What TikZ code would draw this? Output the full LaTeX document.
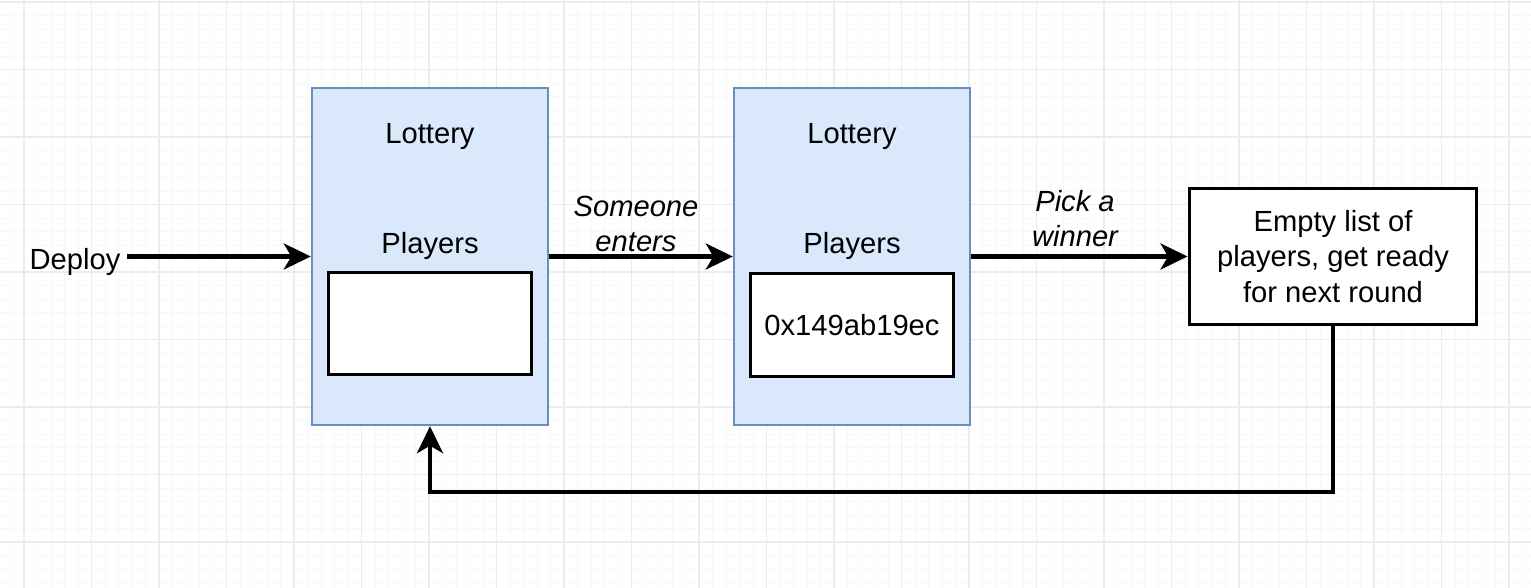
\documentclass[tikz,border=0pt]{standalone}
\usepackage{fontspec}
\setmainfont{Liberation Sans}
\usepackage{xcolor}
\usepackage{tikz}
\usetikzlibrary{arrows.meta}

\definecolor{lotteryfill}{HTML}{DAE8FC}
\definecolor{lotteryedge}{HTML}{6C8EBF}
\definecolor{minorgrid}{HTML}{F8F8F8}
\definecolor{majorgrid}{HTML}{ECECEC}

\tikzset{
    lottery/.style={draw=lotteryedge, fill=lotteryfill, line width=1.4pt,
        minimum width=4.72cm, minimum height=6.74cm, inner sep=0pt},
    slot/.style={draw=black, fill=white, line width=1.7pt,
        minimum width=4.08cm, minimum height=2.06cm, inner sep=0pt},
    resetbox/.style={draw=black, fill=white, line width=1.7pt, align=center,
        minimum width=5.76cm, minimum height=2.72cm, inner sep=0pt},
    txt/.style={font=\fontsize{16.6}{20}\selectfont, inner sep=1pt},
    edgelabel/.style={txt, font=\fontsize{16.6}{20}\selectfont\itshape, align=center},
    flow/.style={line width=2.3pt, -{Stealth[length=0.54cm, width=0.52cm, inset=0.15cm]}}
}

\begin{document}
\begin{tikzpicture}[x=0.02cm, y=-0.02cm]
        % page and background grid
        \useasboundingbox (0,0) rectangle (1531,588);
        \fill[white] (0,0) rectangle (1531,588);
        \foreach \k [evaluate=\k as \gx using 10.5+13.5*\k] in {0,...,112} {
            \draw[minorgrid, line width=0.5pt] (\gx,0) -- (\gx,588);
        }
        \foreach \k [evaluate=\k as \gy using 2+13.5*\k] in {0,...,43} {
            \draw[minorgrid, line width=0.5pt] (0,\gy) -- (1531,\gy);
        }
        \foreach \k [evaluate=\k as \gx using 24+67.5*\k] in {0,...,22} {
            \draw[majorgrid, line width=0.6pt] (\gx,0) -- (\gx,588);
        }
        \foreach \k [evaluate=\k as \gy using 2+67.5*\k] in {0,...,8} {
            \draw[majorgrid, line width=0.6pt] (0,\gy) -- (1531,\gy);
        }

        % first contract: empty list of players
        \node[lottery] (lotA) at (430,256.5) {};
        \node[txt] (lotAtitle) at (430,136) {Lottery};
        \node[txt] (lotAplayers) at (430,246) {Players};
        \node[slot] (slotA) at (430,323.5) {};

        % second contract: one player entered
        \node[lottery] (lotB) at (852,256.5) {};
        \node[txt] (lotBtitle) at (852,136) {Lottery};
        \node[txt] (lotBplayers) at (852,246) {Players};
        \node[slot, txt] (slotB) at (852,325) {0x149ab19ec};

        % reset step
        \node[resetbox, txt] (reset) at (1333,256.5) {Empty list of\\players, get ready\\for next round};

        % deploy
        \node[txt, outer sep=3pt] (deploy) at (75,262) {Deploy};

        % arrows
        \draw[flow] (deploy.east |- lotA) -- (lotA);
        \draw[flow] (lotA) -- (lotB);
        \draw[flow] (lotB) -- (reset);
        \node[edgelabel] (enters) at (636,224) {Someone\\enters};
        \node[edgelabel] (winner) at (1075,219) {Pick a\\winner};

        % back to the start
        \coordinate (loopcorner) at (reset.south |- 0,492);
        \draw[flow] (reset.south) -- (loopcorner) -| (lotA.south);
    \end{tikzpicture}
\end{document}
